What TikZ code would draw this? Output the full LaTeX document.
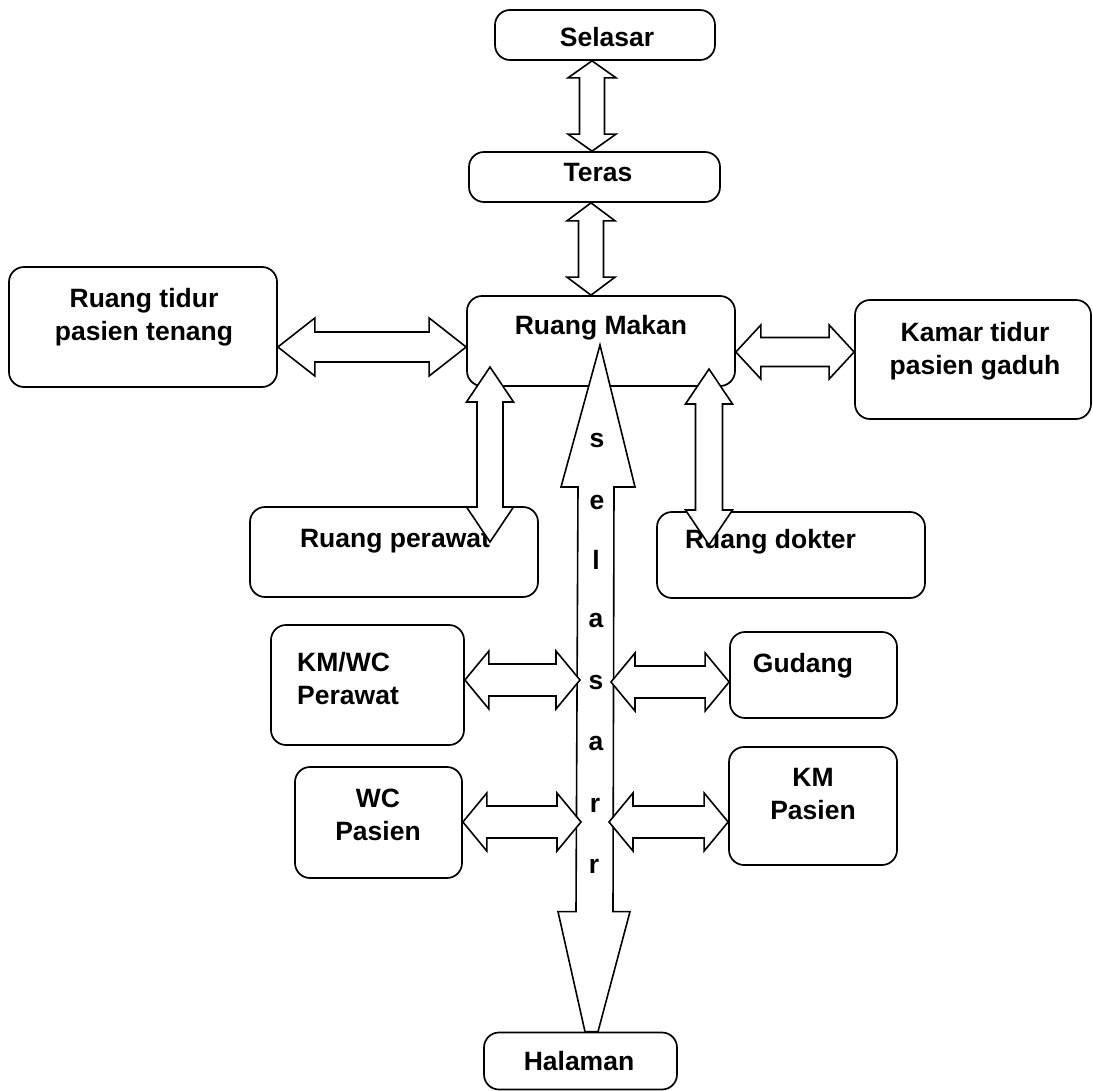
\documentclass[tikz,border=0pt]{standalone}
\usepackage{fontspec}
\setmainfont{Liberation Sans}
\usetikzlibrary{calc}
\tikzset{
  box/.style={draw, line width=1.7pt, rounded corners=15pt, inner sep=0pt, fill=white},
  lbl/.style={font=\bfseries\fontsize{26.5}{33}\selectfont, inner sep=0pt},
  barrow/.style={draw, line width=1.6pt, fill=white, line join=miter},
}
% horizontal double block arrow: #1 left tip, #2 right tip, #3 head half, #4 shaft half, #5 head length
\newcommand\hdbl[5]{%
  \draw[barrow] (#1) -- ($(#1)+(#5,-#3)$) -- ($(#1)+(#5,-#4)$) -- ($(#2)+(-#5,-#4)$)
    -- ($(#2)+(-#5,-#3)$) -- (#2) -- ($(#2)+(-#5,#3)$) -- ($(#2)+(-#5,#4)$)
    -- ($(#1)+(#5,#4)$) -- ($(#1)+(#5,#3)$) -- cycle;}
% vertical double block arrow: #1 top tip, #2 bottom tip
\newcommand\vdbl[5]{%
  \draw[barrow] (#1) -- ($(#1)+(#3,#5)$) -- ($(#1)+(#4,#5)$) -- ($(#2)+(#4,-#5)$)
    -- ($(#2)+(#3,-#5)$) -- (#2) -- ($(#2)+(-#3,-#5)$) -- ($(#2)+(-#4,-#5)$)
    -- ($(#1)+(-#4,#5)$) -- ($(#1)+(-#3,#5)$) -- cycle;}
\begin{document}
\begin{tikzpicture}[x=1pt,y=-1pt]
\useasboundingbox (0,0) rectangle (1093,1091);
% boxes
\node[box, minimum width=220pt, minimum height=50pt] (selasar) at (605,35) {};
\node[box, minimum width=251pt, minimum height=50pt] (teras) at (594.5,177) {};
\node[box, minimum width=268pt, minimum height=120pt] (tenang) at (143,327) {};
\node[box, minimum width=268pt, minimum height=90pt] (makan) at (601,341) {};
\node[box, minimum width=236pt, minimum height=119pt] (kamar) at (973,359.5) {};
\node[box, minimum width=288pt, minimum height=90pt] (perawat) at (394,552) {};
\node[box, minimum width=268pt, minimum height=86pt] (dokter) at (791,555) {};
\node[box, minimum width=193pt, minimum height=120pt] (kmwc) at (367.5,685) {};
\node[box, minimum width=167pt, minimum height=86pt] (gudang) at (813.5,675) {};
\node[box, minimum width=167pt, minimum height=111pt] (wcp) at (378.5,822.5) {};
\node[box, minimum width=168pt, minimum height=118pt] (kmp) at (813,806) {};
\node[box, minimum width=193pt, minimum height=57pt] (halaman) at (580.5,1061) {};
% texts
\node[lbl, anchor=base] (selasar-t) at (607,47) {Selasar};
\node[lbl, anchor=base] (teras-t) at (598,182) {Teras};
\node[lbl, anchor=north, align=center] (tenang-t) at (144,288.5) {Ruang tidur\\pasien tenang};
\node[lbl, anchor=base] (makan-t) at (601,335) {Ruang Makan};
\node[lbl, anchor=north, align=center] (kamar-t) at (975,322.5) {Kamar tidur\\pasien gaduh};
\node[lbl, anchor=base] (perawat-t) at (395,547) {Ruang perawat};
\node[lbl, anchor=base] (dokter-t) at (770.5,548) {Ruang dokter};
\node[lbl, anchor=north west, align=left] (kmwc-t) at (297,652.5) {KM/WC\\Perawat};
\node[lbl, anchor=base] (gudang-t) at (803,672) {Gudang};
\node[lbl, anchor=north, align=center] (wcp-t) at (378,788.5) {WC\\Pasien};
\node[lbl, anchor=north, align=center] (kmp-t) at (813,768.5) {KM\\Pasien};
\node[lbl, anchor=base] (halaman-t) at (579,1070) {Halaman};
% connector end points
\coordinate (a1t) at (selasar.south -| 592,0);
\coordinate (a1b) at (teras.north -| 592,0);
\coordinate (a2t) at (teras.south -| 591,0);
\coordinate (a2b) at (makan.north -| 591,0);
\coordinate (a3l) at (tenang.east |- 0,347);
\coordinate (a3r) at (makan.west |- 0,347);
\coordinate (a4l) at (makan.east |- 0,352);
\coordinate (a4r) at (kamar.west |- 0,352);
\coordinate (a5t) at (490,367);
\coordinate (a5b) at (490,542);
\coordinate (a6t) at (709,369);
\coordinate (a6b) at (709,545);
% vertical block arrows
\vdbl{a1t}{a1b}{24}{12.5}{17}
\vdbl{a2t}{a2b}{24}{12.5}{18}
\hdbl{a3l}{a3r}{29}{15}{37}
\hdbl{a4l}{a4r}{27}{14.5}{25}
\vdbl{a5t}{a5b}{23.5}{13}{35}
\vdbl{a6t}{a6b}{23.5}{13.5}{35}
% big corridor arrow (selasar)
\coordinate (stip) at (600,345);
\coordinate (send) at (halaman.north -| 591.5,0);
\draw[barrow] (stip) -- ($(stip)+(35,142)$) -- ($(stip)+(14,142)$) -- ($(send)+(21.5,-120)$)
  -- ($(send)+(38.5,-120)$) -- ($(send)+(6.5,0)$) -- ($(send)+(-6.5,0)$)
  -- ($(send)+(-33.5,-120)$) -- ($(send)+(-15.5,-120)$) -- ($(stip)+(-22,142)$)
  -- ($(stip)+(-39,142)$) -- cycle;
\node[lbl, anchor=base] (c1) at (597,447) {s};
\node[lbl, anchor=base] (c2) at (597,509) {e};
\node[lbl, anchor=base] (c3) at (596,569) {l};
\node[lbl, anchor=base] (c4) at (596,627) {a};
\node[lbl, anchor=base] (c5) at (596,689) {s};
\node[lbl, anchor=base] (c6) at (596,750) {a};
\node[lbl, anchor=base] (c7) at (595,812) {r};
\node[lbl, anchor=base] (c8) at (594,873) {r};
% side arrows to the corridor
\coordinate (a7l) at (kmwc.east |- 0,680);
\coordinate (a7r) at (580,680);
\coordinate (a8l) at (611,682);
\coordinate (a8r) at (gudang.west |- 0,682);
\coordinate (a9l) at (wcp.east |- 0,822);
\coordinate (a9r) at (581,822);
\coordinate (a10l) at (609,822);
\coordinate (a10r) at (kmp.west |- 0,822);
\hdbl{a7l}{a7r}{29}{16}{24}
\hdbl{a8l}{a8r}{29}{16}{24}
\hdbl{a9l}{a9r}{29}{16}{24}
\hdbl{a10l}{a10r}{29}{16}{24}
\end{tikzpicture}
\end{document}
